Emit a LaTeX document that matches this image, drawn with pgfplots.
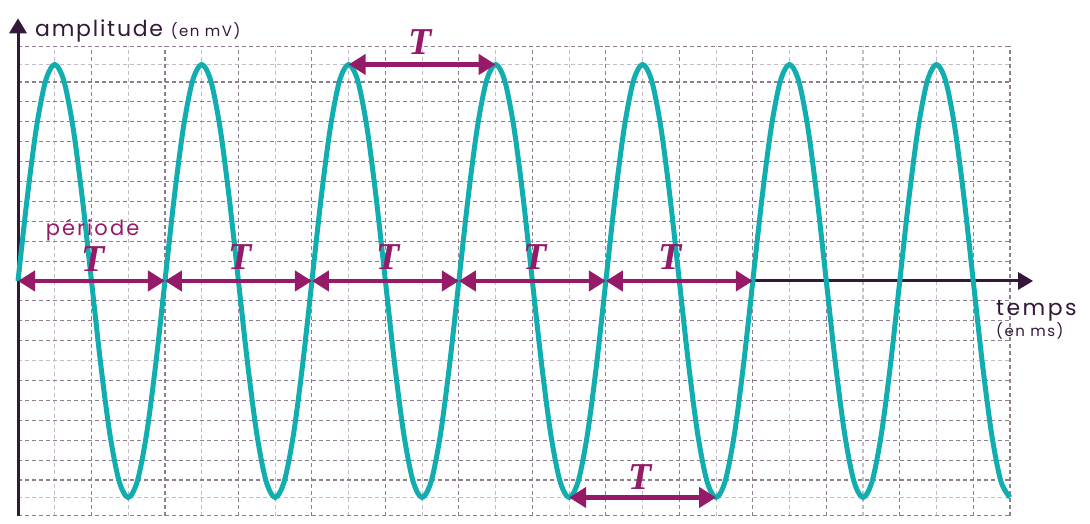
\documentclass[border=0pt]{standalone}
\usepackage{pgfplots}
\pgfplotsset{compat=1.18}
\usetikzlibrary{arrows.meta}
\usepackage{fontspec}
\setmainfont{Poppins}
\newfontfamily\serifT{Liberation Serif}
\definecolor{curvecol}{HTML}{12AEAF}
\definecolor{percol}{HTML}{951B69}
\definecolor{axcol}{HTML}{33183A}
\definecolor{griddark}{HTML}{4E3656}
\definecolor{gridmed}{HTML}{8E7E90}
\definecolor{gridlight}{HTML}{C4BCC6}
\newcommand{\lsp}[1]{\addfontfeatures{LetterSpace=#1}}
\tikzset{Tlab/.style={text=percol, font=\fontsize{38}{40}\selectfont\serifT\bfseries\itshape, anchor=base, inner sep=0pt},
  Tarr/.style={draw=percol, line width=4.5pt, {Triangle[length=17pt,width=20pt]}-{Triangle[length=17pt,width=20pt]}}}
\begin{document}
\begin{tikzpicture}
\useasboundingbox (-18pt,-8.2pt) rectangle (1072pt,515.8pt);
\begin{axis}[at={(0pt,0pt)}, anchor=south west, scale only axis,
  x=36.74pt, y=19.9pt, xmin=0, xmax=27, ymin=-11.8, ymax=11.8,
  clip=false, axis line style={draw=none}, tick style={draw=none},
  major tick length=0pt, minor tick length=0pt,
  xticklabels={}, yticklabels={}, extra x tick labels={}, extra y tick labels={},
  xtick={2,6,10,14,18,22,26,27}, minor xtick={1,3,5,7,9,11,13,15,17,19,21,23,25},
  ytick={-11.8,-9,-8,-7,-6,-3,-2,-1,1,2,3,4,6,7,8,9,11.8}, minor ytick={-10.88,-4,10.88},
  extra x ticks={0,4,8,12,16,20,24}, extra y ticks={-10,-5,0,5,10},
  extra x tick style={grid style={dash pattern=on 4pt off 3pt, line width=1.2pt, griddark}},
  extra y tick style={grid style={dash pattern=on 4pt off 3pt, line width=1.2pt, griddark}},
  grid=both,
  major grid style={dash pattern=on 4pt off 3pt, line width=1.1pt, gridmed},
  minor grid style={dash pattern=on 4pt off 3pt, line width=1.1pt, gridlight},
]
% axes
\draw[axcol, line width=3pt, -{Triangle[length=15pt,width=17pt]}] (axis cs:0,-11.8) -- (axis cs:0,13.2);
\draw[axcol, line width=3pt, -{Triangle[length=15pt,width=17pt]}] (axis cs:0,0) -- (axis cs:27.63,0);
% signal
\addplot[curvecol, line width=5pt, smooth] coordinates {
(0,0)(0.25,4.16)(0.5,7.69)(0.75,10.05)(1,10.88)(1.25,10.05)(1.5,7.69)(1.75,4.16)(2,0)(2.25,-4.16)(2.5,-7.69)(2.75,-10.05)(3,-10.88)(3.25,-10.05)(3.5,-7.69)(3.75,-4.16)
(4,0)(4.25,4.16)(4.5,7.69)(4.75,10.05)(5,10.88)(5.25,10.05)(5.5,7.69)(5.75,4.16)(6,0)(6.25,-4.16)(6.5,-7.69)(6.75,-10.05)(7,-10.88)(7.25,-10.05)(7.5,-7.69)(7.75,-4.16)
(8,0)(8.25,4.16)(8.5,7.69)(8.75,10.05)(9,10.88)(9.25,10.05)(9.5,7.69)(9.75,4.16)(10,0)(10.25,-4.16)(10.5,-7.69)(10.75,-10.05)(11,-10.88)(11.25,-10.05)(11.5,-7.69)(11.75,-4.16)
(12,0)(12.25,4.16)(12.5,7.69)(12.75,10.05)(13,10.88)(13.25,10.05)(13.5,7.69)(13.75,4.16)(14,0)(14.25,-4.16)(14.5,-7.69)(14.75,-10.05)(15,-10.88)(15.25,-10.05)(15.5,-7.69)(15.75,-4.16)
(16,0)(16.25,4.16)(16.5,7.69)(16.75,10.05)(17,10.88)(17.25,10.05)(17.5,7.69)(17.75,4.16)(18,0)(18.25,-4.16)(18.5,-7.69)(18.75,-10.05)(19,-10.88)(19.25,-10.05)(19.5,-7.69)(19.75,-4.16)
(20,0)(20.25,4.16)(20.5,7.69)(20.75,10.05)(21,10.88)(21.25,10.05)(21.5,7.69)(21.75,4.16)(22,0)(22.25,-4.16)(22.5,-7.69)(22.75,-10.05)(23,-10.88)(23.25,-10.05)(23.5,-7.69)(23.75,-4.16)
(24,0)(24.25,4.16)(24.5,7.69)(24.75,10.05)(25,10.88)(25.25,10.05)(25.5,7.69)(25.75,4.16)(26,0)(26.25,-4.16)(26.5,-7.69)(26.75,-10.05)(27,-10.88)
};
% period arrows
\draw[Tarr] (axis cs:0,0) -- (axis cs:4,0);
\draw[Tarr] (axis cs:4,0) -- (axis cs:8,0);
\draw[Tarr] (axis cs:8,0) -- (axis cs:12,0);
\draw[Tarr] (axis cs:12,0) -- (axis cs:16,0);
\draw[Tarr] (axis cs:16,0) -- (axis cs:20,0);
\draw[Tarr] (axis cs:9,10.88) -- (axis cs:13,10.88);
\draw[Tarr] (axis cs:15,-10.88) -- (axis cs:19,-10.88);
\node[Tlab] at (axis cs:2.05,0.5) {T};
\node[Tlab] at (axis cs:6.04,0.6) {T};
\node[Tlab] at (axis cs:10.07,0.6) {T};
\node[Tlab] at (axis cs:14.07,0.6) {T};
\node[Tlab] at (axis cs:17.75,0.6) {T};
\node[Tlab] at (axis cs:10.94,11.36) {T};
\node[Tlab] at (axis cs:16.93,-10.5) {T};
% labels
\node[text=percol, anchor=base, inner sep=0pt, font=\fontsize{21}{24}\selectfont\lsp{10}] at (axis cs:2.03,2.26) {période};
\node[text=axcol, anchor=base west, inner sep=0pt, font=\fontsize{22}{24}\selectfont\lsp{8}] at (axis cs:0.463,12.28) {amplitude {\fontsize{15}{16}\selectfont\lsp{10}(en mV)}};
\node[text=axcol, anchor=base west, inner sep=0pt, font=\fontsize{22}{24}\selectfont\lsp{11}] at (axis cs:26.62,-1.71) {temps};
\node[text=axcol, anchor=base west, inner sep=0pt, font=\fontsize{15}{16}\selectfont\lsp{10}] at (axis cs:26.62,-2.77) {(en ms)};
\end{axis}
\end{tikzpicture}
\end{document}
